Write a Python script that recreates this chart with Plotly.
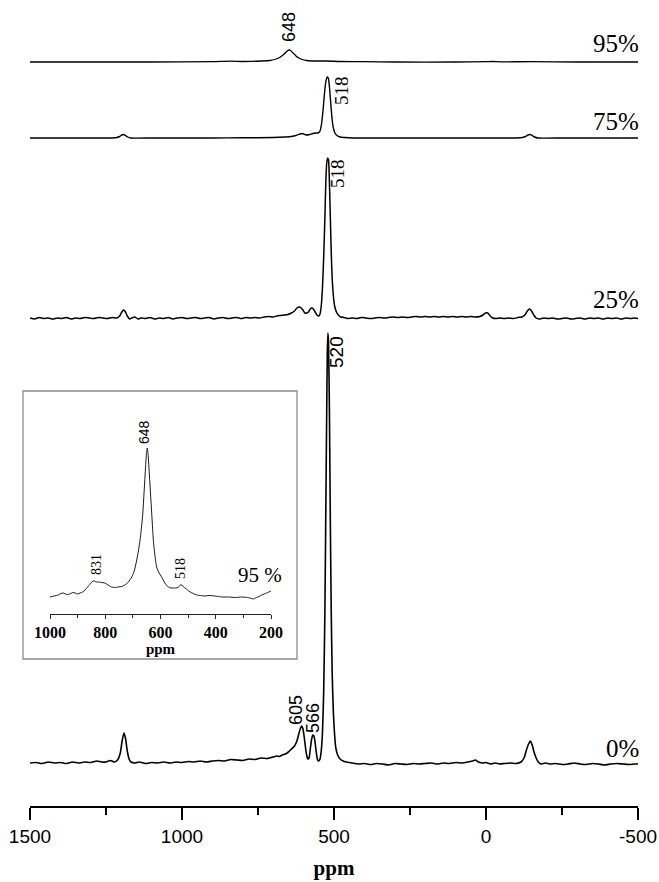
import plotly.graph_objects as go

# ---------------- data ----------------
# 0 % sample
ppm_0 = [1500,1480,1460,1440,1420,1400,1380,1360,1340,1320,1300,1280,1265,1250,1235,1222,1212,1203,1197,1191,1186,1180,1174,1168,1155,1140,1120,1100,1080,1060,1040,1020,1000,980,960,940,920,900,880,860,840,820,800,780,760,740,720,700,690,680,670,660,650,640,630,622,615,610,606,602,598,594,590,586,582,578,574,570,566,562,558,554,550,546,542,538,534,530,527,524,522,520,518,515,512,509,506,502,498,494,488,480,470,460,440,420,400,380,360,340,320,300,280,260,240,220,200,180,160,140,120,100,80,60,45,35,25,10,0,-15,-30,-45,-60,-80,-100,-115,-125,-133,-140,-146,-152,-158,-165,-172,-180,-195,-210,-230,-250,-270,-290,-310,-330,-350,-370,-390,-410,-430,-450,-470,-490,-500]
int_0 = [0,0.5,-0.5,1,0,0.5,-0.5,1,0,1,0.5,2,1,1,2.5,1,3,10,22,30,25,12,4,1,0,1,-0.5,0.5,0,1,0,1,0.5,1.5,1,2,1,2,2.5,2,3.5,3,2.5,4,3.5,5,4.5,6,7,6.5,8,9,11,14,17,22,30,35,37,34,26,16,8,4,5,14,23,28,27,20,10,3,2,4,12,30,70,150,250,350,410,430,420,350,240,150,90,50,28,15,8,4,2,1,0,-1,-0.5,-1.5,-0.5,-1,-2,-0.5,-1,-1.5,-0.5,-1,-0.5,0,-1,0,-0.5,0.5,0,1,2,3,1,0,0.5,-1,0,-1,-0.5,0,-0.5,1,5,13,19,22,18,11,5,1,-1,0,-1,-0.5,-1.5,-1,0,-1,-1.5,-0.5,-1,-2,-1,-0.5,-1,-1.5,-1,-1]

# 25 % sample
ppm_25 = [1500,1485,1470,1455,1440,1425,1410,1395,1380,1365,1350,1335,1320,1305,1290,1275,1260,1245,1230,1215,1205,1198,1192,1186,1180,1172,1165,1155,1145,1135,1120,1105,1090,1075,1060,1045,1030,1015,1000,985,970,955,940,925,910,895,880,865,850,835,820,805,790,775,760,745,730,715,700,688,676,664,652,640,630,622,614,608,602,596,590,584,578,573,568,562,556,550,546,542,538,534,530,527,524,521,518,515,512,509,506,502,498,492,486,478,468,455,440,425,410,395,380,365,350,335,320,305,290,275,260,245,230,215,200,185,170,155,140,125,110,95,80,65,50,35,20,10,2,-6,-14,-22,-32,-45,-60,-75,-90,-105,-118,-128,-136,-143,-150,-157,-165,-175,-190,-205,-220,-235,-250,-265,-280,-295,-310,-325,-340,-355,-370,-385,-400,-415,-430,-445,-460,-475,-490,-500]
int_25 = [0,-1,0.5,-0.5,0,-1,0,-0.5,0.5,-1,0,-0.5,0.5,0,-0.5,0.5,0,-0.5,0.5,0,2,6,8,6,2,-1,0,1,-1,0,-0.5,0.5,-1,0,-0.5,0.5,-1,0,0.5,-0.5,0,0.5,-0.5,0,0.5,-1,0,0.5,-0.5,0,0.5,-0.5,0.5,0,0.5,0,1,1.5,1,2,2.5,3,3.5,5,7,10,11,10,8,5,5,6,9,10,9,6,3,2,4,12,30,60,100,135,155,160,158,135,100,65,40,22,12,6,3,1,0.5,-0.5,0,-0.5,0.5,0,-0.5,0,0.5,0,0.5,1,0.5,1,0.5,1,1.5,1,1.5,1,1.5,1,1.5,1,1.5,1,1.5,1,1.5,1,1.5,3,5,5,2,0,-0.5,0,-0.5,0,-0.5,0.5,1,3,7,9,7,3,0,-1,0,-0.5,0,-1,-0.5,0,-1,-0.5,0,-1,0,-0.5,0,-1,0,-0.5,0,-1,0,-0.5,0,-0.5]

# 75 % sample
ppm_75 = [1500,1400,1300,1240,1215,1205,1198,1192,1186,1178,1170,1100,1000,900,800,700,660,640,625,612,604,596,588,580,570,560,552,546,541,536,532,528,524,521,518,514,510,506,502,497,490,480,465,440,300,100,0,-100,-120,-130,-138,-145,-152,-160,-170,-250,-400,-500]
int_75 = [0,0,0,0,0.5,1.5,3,3.5,2.5,1,0,0,0,0,0.2,0.5,1,1.5,2.5,4,4.5,3.5,3,3.5,4.5,5,5,7,14,28,42,54,60,61,59,48,32,18,10,5,2.5,1,0.5,0,0,0,0,0,0.5,1.5,3,3.5,2.5,1,0,0,0,0]

# 95 % sample
ppm_95 = [1500,1300,1100,900,840,800,740,710,695,682,672,664,657,652,648,643,638,631,625,616,605,590,560,520,480,400,300,100,0,-20,-50,-150,-300,-500]
int_95 = [0,0,0,0.3,0.8,0.5,1,1.5,2.5,4,6,8,10,11.5,12,11.5,10,8,6,4,2.5,1.5,1,1,0.5,0.3,0,0,0.3,0.5,0.2,0.3,0,0]

# 95 % sample, inset (expanded)
ppm_in = [1000,985,970,960,952,940,928,918,909,900,891,882,873,864,855,847,840,832,825,815,801,790,777,765,753,740,729,716,704,694,686,680,674,665,656,651,648,645,640,631,626,620,614,605,596,584,572,562,554,545,536,528,522,516,511,502,493,481,469,455,439,425,403,390,375,354,330,306,285,270,264,256,248,240,234,225,216,208,200]
int_in = [17,18,19,20.5,21,19.5,20,21.5,21,20,21,22,24,27,30,32.5,33,32,32,31.5,31,29,27,26.5,27,27.5,29,32,37,44,54,63,74,97,138,160,166,160,138,97,74,58,47,41,37,31,27,26,26,26,26.5,29,29,27,26,24,22,20.5,19,18.5,18,18.5,18,17.5,17,17,16.5,17,16.5,15.5,15,16,17,18,19,20,21,22,23]

series_labels = ["0%", "25%", "75%", "95%"]
main_ticks = [1500, 1000, 500, 0, -500]
minor_ticks = [1250, 750, 250, -250]
inset_ticks = [1000, 800, 600, 400, 200]
inset_minor = [900, 700, 500, 300]

# ---------------- layout helpers (pixel geometry) ----------------
W, H = 659, 882
L, R, T, B = 30, 21, 0, 76
PW, PH = W - L - R, H - T - B  # 608 x 806


def px(xp):
    return (xp - L) / PW


def py(yp):
    return (H - B - yp) / PH


offsets = {"0%": 806 - 763, "25%": 806 - 318, "75%": 806 - 138, "95%": 806 - 62}
widths = {"0%": 1.6, "25%": 1.5, "75%": 1.4, "95%": 1.3}
data = {"0%": (ppm_0, int_0), "25%": (ppm_25, int_25),
        "75%": (ppm_75, int_75), "95%": (ppm_95, int_95)}

fig = go.Figure()
for lab in series_labels:
    xs, ys = data[lab]
    fig.add_trace(go.Scatter(
        x=xs, y=[offsets[lab] + v for v in ys], mode="lines",
        line=dict(color="black", width=widths[lab], shape="spline", smoothing=0.5),
        hoverinfo="skip", showlegend=False, xaxis="x", yaxis="y"))

fig.add_trace(go.Scatter(
    x=ppm_in, y=int_in, mode="lines",
    line=dict(color="black", width=0.9, shape="spline", smoothing=0.5),
    hoverinfo="skip", showlegend=False, xaxis="x2", yaxis="y2"))

SERIF = "Liberation Serif"
SANS = "Liberation Sans"

fig.update_layout(
    width=W, height=H,
    margin=dict(l=L, r=R, t=T, b=B, pad=0),
    paper_bgcolor="white", plot_bgcolor="white",
    showlegend=False,
    xaxis=dict(
        range=[1500, -500], tickmode="array", tickvals=main_ticks,
        ticktext=[str(t) for t in main_ticks],
        ticks="outside", ticklen=12, tickwidth=2, tickcolor="black",
        minor=dict(tickmode="array", tickvals=minor_ticks, ticks="outside",
                   ticklen=7, tickwidth=2, tickcolor="black"),
        showline=True, linecolor="black", linewidth=2,
        showgrid=False, zeroline=False,
        tickfont=dict(family=SANS, size=19, color="black"),
        title=dict(text="ppm", font=dict(family=SERIF, size=21, color="black", weight="bold"),
                   standoff=15),
        automargin=False,
    ),
    yaxis=dict(range=[0, PH], visible=False, fixedrange=True),
    xaxis2=dict(
        domain=[px(50), px(271)], anchor="y2",
        range=[1000, 200], tickmode="array", tickvals=inset_ticks,
        ticktext=[str(t) for t in inset_ticks],
        ticks="outside", ticklen=4, tickwidth=1, tickcolor="#222",
        minor=dict(tickmode="array", tickvals=inset_minor, ticks="outside",
                   ticklen=3, tickwidth=1, tickcolor="#222"),
        showline=True, linecolor="#222", linewidth=1,
        showgrid=False, zeroline=False,
        tickfont=dict(family=SERIF, size=16, color="black", weight="bold"),
        title=dict(text="ppm", font=dict(family=SERIF, size=15, color="black", weight="bold"),
                   standoff=2),
        automargin=False,
    ),
    yaxis2=dict(domain=[py(614), py(400)], anchor="x2", range=[0, 214],
                visible=False, fixedrange=True),
    shapes=[dict(type="rect", xref="paper", yref="paper",
                 x0=px(23), x1=px(297), y0=py(659), y1=py(391),
                 line=dict(color="#8c8c8c", width=1.3), layer="below")],
)

annots = [
    # (text, x_px, y_px, size, family, angle, xanchor)
    ("648", 289, 27, 18, SANS, -90, "center"),
    ("95%", 641, 44, 25, SERIF, 0, "right"),
    ("518", 341, 91, 19, SERIF, -90, "center"),
    ("75%", 641, 121, 25, SERIF, 0, "right"),
    ("518", 337, 174, 19, SERIF, -90, "center"),
    ("25%", 641, 300, 25, SERIF, 0, "right"),
    ("520", 336, 352, 19, SANS, -90, "center"),
    ("605", 296, 710, 18, SANS, -90, "center"),
    ("566", 313, 718, 18, SANS, -90, "center"),
    ("0%", 641, 748, 25, SERIF, 0, "right"),
    ("648", 144, 432, 14, SANS, -90, "center"),
    ("831", 96, 565, 14, SERIF, -90, "center"),
    ("518", 180, 569, 14, SERIF, -90, "center"),
    ("95 %", 260, 575, 21, SERIF, 0, "center"),
]
for text, xp, yp, size, fam, ang, xa in annots:
    fig.add_annotation(
        text=text, xref="paper", yref="paper", x=px(xp), y=py(yp),
        xanchor=xa, yanchor="middle", showarrow=False, textangle=ang,
        font=dict(family=fam, size=size, color="black"))

fig.write_html("out.html")
